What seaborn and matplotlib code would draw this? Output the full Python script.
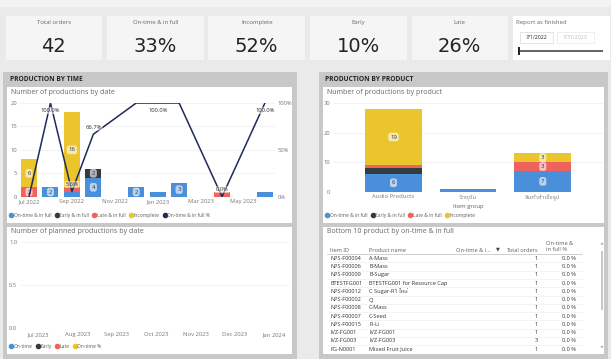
import numpy as np
import pandas as pd
import seaborn as sns
import matplotlib
matplotlib.use("Agg")
import matplotlib.pyplot as plt
from matplotlib.patches import Rectangle
from matplotlib.lines import Line2D
from matplotlib import font_manager as fm

# ---------------- data ----------------
kpi_titles = ["Total orders", "On-time & in full", "Incomplete", "Early", "Late"]
kpi_values = ["42", "33%", "52%", "10%", "26%"]
slicer_title = "Report as finished"
slicer_dates = ["7/1/2022", "7/31/2023"]

months = ["Jul 2022", "Aug 2022", "Sep 2022", "Oct 2022", "Nov 2022", "Dec 2022",
          "Jan 2023", "Feb 2023", "Mar 2023", "Apr 2023", "May 2023", "Jun 2023"]
month_ticks = ["Jul 2022", "Sep 2022", "Nov 2022", "Jan 2023", "Mar 2023", "May 2023"]
t_ontime = [0, 2, 1, 4, 0, 2, 1, 3, 0, 0, 0, 1]
t_early = [0, 0, 0, 2, 0, 0, 0, 0, 0, 0, 0, 0]
t_late = [2, 0, 1, 0, 0, 0, 0, 0, 0, 1, 0, 0]
t_incomplete = [6, 0, 16, 0, 0, 0, 0, 0, 0, 0, 0, 0]
t_pct = [0.0, 100.0, 5.6, 66.7, np.nan, 100.0, 100.0, 100.0, np.nan, 0.0, np.nan, 100.0]
t_pct_labelled = ["Aug 2022", "Sep 2022", "Oct 2022", "Jan 2023", "Apr 2023", "Jun 2023"]

plan_months = ["Jul 2023", "Aug 2023", "Sep 2023", "Oct 2023", "Nov 2023", "Dec 2023", "Jan 2024"]
plan_series = ["On-time", "Early", "Late", "On-time %"]

groups = ["Audio Products", "วัตถุดิบ", "สินค้าสำเร็จรูป"]
g_ontime = [6, 1, 7]
g_early = [2, 0, 0]
g_late = [1, 0, 3]
g_incomplete = [19, 0, 3]

series_names = ["On-time & in full", "Early & in full", "Late & in full", "Incomplete"]
line_name = "On-time & in full %"

tbl_headers = ["Item ID", "Product name", "On-time & i...", "Total orders", "On-time &\nin full %"]
tbl_item_id = ["NPS-F00004", "NPS-F00006", "NPS-F00009", "BTESTFG001", "NPS-F00012", "NPS-F00002",
               "NPS-F00008", "NPS-F00007", "NPS-F00015", "IVZ-FG001", "IVZ-FG003", "FG-N0001"]
tbl_product = ["A-Mass", "B-Mass", "B-Sugar", "BTESTFG001 for Resource Cap", "C Sugar-R1 ใหม่", "CJ",
               "C-Mass", "C-Seed", "Fi-Li", "IVZ-FG001", "IVZ-FG003", "Mixed Fruit Juice"]
tbl_total = [1, 1, 1, 1, 1, 1, 1, 1, 1, 1, 3, 1]
tbl_pct = [0.0] * 12

# ---------------- style ----------------
sns.set_theme(style="white")


def find_thai_family():
    try:
        from fontTools.ttLib import TTFont
    except Exception:
        return None
    seen, cands = set(), []
    for f in fm.fontManager.ttflist:
        if f.fname in seen:
            continue
        seen.add(f.fname)
        try:
            tt = TTFont(f.fname, fontNumber=0, lazy=True)
            cmap = tt.getBestCmap()
            if cmap and 0x0E2A in cmap and 0x0E34 in cmap:
                cands.append(f.name)
        except Exception:
            pass
    for c in cands:
        if "Sans" in c:
            return c
    return cands[0] if cands else None


thai = find_thai_family()
BODY = ["Open Sans"] + ([thai] if thai else []) + ["DejaVu Sans"]
plt.rcParams["font.family"] = BODY

C_ON, C_EARLY, C_LATE, C_INC = "#4A8FDA", "#343D3D", "#F0625E", "#EAC52B"
C_LINE = "#1E2A5C"
C_TXT, C_GRAY = "#252423", "#666666"
BG, PANEL = "#EAEAEA", "#C8C8C8"

W, H = 611, 359
fig = plt.figure(figsize=(W / 100, H / 100), dpi=100, facecolor=BG)


def fbox(x0, y0, x1, y1):
    return [x0 / W, 1 - y1 / H, (x1 - x0) / W, (y1 - y0) / H]


def frect(x0, y0, x1, y1, fc, ec="none", lw=0, z=-2):
    fig.patches.append(Rectangle((x0 / W, 1 - y1 / H), (x1 - x0) / W, (y1 - y0) / H,
                                 transform=fig.transFigure, fc=fc, ec=ec, lw=lw, zorder=z))


def ftext(x, y, s, **kw):
    kw.setdefault("va", "center")
    fig.text(x / W, 1 - y / H, s, **kw)


# top strip
frect(0, 0, W, 7, "#F3F3F3", z=-3)

# ---------------- KPI cards ----------------
for i, (t, v) in enumerate(zip(kpi_titles, kpi_values)):
    x0 = 5.5 + i * 101.5
    frect(x0, 16, x0 + 96.5, 60, "#F5F5F5")
    ftext(x0 + 48.25, 22.5, t, ha="center", fontsize=4.3, color=C_GRAY)
    ftext(x0 + 48.25, 46.5, v, ha="center", fontsize=14,
          family=["Liberation Sans Narrow", "DejaVu Sans"], color=C_TXT)

# slicer
frect(513, 16, 610, 60, "white")
ftext(516, 22.5, slicer_title, ha="left", fontsize=4.3, color=C_GRAY)
frect(520, 32, 553, 43, "white", ec="#DADADA", lw=0.5, z=-1)
frect(557, 32, 594, 43, "white", ec="#E8E8E8", lw=0.5, z=-1)
ftext(536.5, 37.5, slicer_dates[0], ha="center", fontsize=3.8, color=C_TXT)
ftext(575.5, 37.5, slicer_dates[1], ha="center", fontsize=3.8, color="#BBBBBB")
frect(519, 50.3, 603, 51.7, "#666666", z=-1)
frect(518.3, 47, 520.3, 55, "#252423", z=-1)

# ---------------- panels ----------------
frect(3, 72, 297, 359, PANEL)
frect(319, 72, 608, 359, PANEL)
frect(7, 87, 292, 223, "white", z=-1)
frect(7, 227, 292, 354, "white", z=-1)
frect(323, 87, 604, 223, "white", z=-1)
frect(323, 227, 604, 354, "white", z=-1)
ftext(10, 79.5, "PRODUCTION BY TIME", ha="left", fontsize=4.8, weight="bold",
      family=["Open Sans", "DejaVu Sans"], color=C_TXT)
ftext(325, 79.5, "PRODUCTION BY PRODUCT", ha="left", fontsize=4.8, weight="bold",
      family=["Open Sans", "DejaVu Sans"], color=C_TXT)

ftext(11, 92.5, "Number of productions by date", ha="left", fontsize=5, color=C_GRAY)
ftext(11, 231.5, "Number of planned productions by date", ha="left", fontsize=5, color=C_GRAY)
ftext(327, 92.5, "Number of productions by product", ha="left", fontsize=5, color=C_GRAY)
ftext(327, 231.5, "Bottom 10 product by on-time & in full", ha="left", fontsize=5, color=C_GRAY)

LBL_BOX = dict(boxstyle="round,pad=0.3,rounding_size=0.4", fc="white", ec="none", alpha=0.62)


def style_axes(ax):
    ax.set_facecolor("none")
    for s in ax.spines.values():
        s.set_visible(False)
    ax.tick_params(length=0, labelsize=4.2, colors="#777777", pad=2)
    ax.set_xlabel("")
    ax.set_ylabel("")


def legend_row(ax, labels, colors, x, y):
    handles = [Line2D([], [], marker="o", ls="", color=c, markersize=3.0) for c in colors]
    leg = ax.legend(handles, labels, loc="center left", bbox_to_anchor=(x / W, 1 - y / H),
                    bbox_transform=fig.transFigure, ncol=len(labels), frameon=False,
                    fontsize=3.6, handlelength=0.5, handletextpad=0.25, columnspacing=0.8,
                    borderpad=0, borderaxespad=0, labelcolor="#605E5C")
    return leg


def stacked(ax, cats, layers, colors, width, min_label):
    cum = np.cumsum(np.array(layers, dtype=float), axis=0)
    for i in range(len(layers) - 1, -1, -1):
        sns.barplot(x=cats, y=cum[i], order=cats, color=colors[i], saturation=1, width=width,
                    errorbar=None, ax=ax, linewidth=0)
    for i, vals in enumerate(layers):
        for j, v in enumerate(vals):
            if v >= min_label:
                ax.text(j, cum[i][j] - v / 2, str(v), ha="center", va="center", fontsize=4.3,
                        color="#333333", bbox=LBL_BOX, zorder=5)


# ---------------- production by time ----------------
ax = fig.add_axes(fbox(20, 103, 275, 196.7))
stacked(ax, months, [t_ontime, t_early, t_late, t_incomplete], [C_ON, C_EARLY, C_LATE, C_INC], 0.75, 2)
style_axes(ax)
ax.set_ylim(0, 20)
ax.set_yticks([0, 5, 10, 15, 20])
ax.set_xticks([months.index(m) for m in month_ticks], month_ticks)
ax.grid(axis="y", color="#EEEEEE", lw=0.5)
ax.set_axisbelow(True)
ax.set_xlim(-0.42, 11.47)

ax2 = ax.twinx()
dfl = pd.DataFrame({"x": np.arange(len(months)), "pct": t_pct}).dropna()
sns.lineplot(data=dfl, x="x", y="pct", color=C_LINE, lw=1.1, ax=ax2)
style_axes(ax2)
ax2.set_ylim(0, 100)
ax2.set_yticks([0, 50, 100], ["0%", "50%", "100%"])
ax2.set_xlim(-0.42, 11.47)
for m in t_pct_labelled:
    j = months.index(m)
    v = t_pct[j]
    off = -5.5 if v >= 99 else 5
    ax2.annotate(f"{v:.1f}%", (j, v), xytext=(0, off), textcoords="offset points",
                 ha="center", va="center", fontsize=4.2, color="#333333", zorder=6,
                 bbox=dict(boxstyle="round,pad=0.15", fc="white", ec="none", alpha=0.55))
legend_row(ax, series_names + [line_name], [C_ON, C_EARLY, C_LATE, C_INC, C_LINE], 10, 215.5)

# ---------------- planned productions ----------------
axp = fig.add_axes(fbox(20, 242, 290, 327.7))
style_axes(axp)
axp.set_ylim(0, 1)
axp.set_yticks([0, 0.5, 1.0], ["0.0", "0.5", "1.0"])
axp.set_xticks(range(len(plan_months)), plan_months)
axp.set_xlim(-0.46, 6.4)
axp.grid(axis="y", color="#EEEEEE", lw=0.5)
axp.tick_params(axis="x", pad=3)
legend_row(axp, plan_series, [C_ON, C_EARLY, C_LATE, C_INC], 10, 346.5)

# ---------------- production by product ----------------
axg = fig.add_axes(fbox(333, 103, 604, 191.7))
stacked(axg, groups, [g_ontime, g_early, g_late, g_incomplete], [C_ON, C_EARLY, C_LATE, C_INC], 0.76, 3)
style_axes(axg)
axg.set_ylim(0, 30)
axg.set_yticks([0, 10, 20, 30])
axg.grid(axis="y", color="#EEEEEE", lw=0.5)
axg.set_axisbelow(True)
axg.set_xlim(-0.81, 2.82)
axg.set_xlabel("Item group", fontsize=4.2, color="#605E5C", labelpad=2)
legend_row(axg, series_names, [C_ON, C_EARLY, C_LATE, C_INC], 326, 215.5)

# ---------------- table ----------------
axt = fig.add_axes(fbox(323, 227, 604, 354))
axt.set_xlim(323, 604)
axt.set_ylim(354, 227)
axt.axis("off")
hdr_kw = dict(fontsize=4.1, color="#605E5C", va="center")
axt.text(330, 250, tbl_headers[0], ha="left", **hdr_kw)
axt.text(369, 250, tbl_headers[1], ha="left", **hdr_kw)
axt.text(455.5, 250, tbl_headers[2], ha="left", **hdr_kw)
axt.text(498, 248.5, "▼", ha="center", fontsize=3.6, color="#444444", va="center",
         family=["DejaVu Sans"])
axt.text(538, 250, tbl_headers[3], ha="right", **hdr_kw)
axt.text(546, 246.5, tbl_headers[4], ha="left", linespacing=1.25, **hdr_kw)
axt.plot([327, 582], [253.8, 253.8], color="#C8C8C8", lw=0.6)
row0, dy = 258.3, 8.27
for i, (iid, pn, tot, pc) in enumerate(zip(tbl_item_id, tbl_product, tbl_total, tbl_pct)):
    y = row0 + i * dy
    kw = dict(fontsize=4.1, color="#333333", va="center")
    axt.text(330, y, iid, ha="left", **kw)
    axt.text(369, y, pn, ha="left", **kw)
    axt.text(538, y, str(tot), ha="right", **kw)
    axt.text(576, y, f"{pc:.1f} %", ha="right", **kw)
    if i < len(tbl_item_id) - 1:
        axt.plot([327, 582], [y + dy / 2, y + dy / 2], color="#EFEFEF", lw=0.5)
# scrollbar
axt.add_patch(Rectangle((600.7, 251), 2.6, 59, fc="#C8C8C8", ec="none"))
axt.plot([601, 602, 603], [244.5, 243, 244.5], color="#888888", lw=0.5)
axt.plot([601, 602, 603], [346, 347.5, 346], color="#888888", lw=0.5)

fig.savefig("out.png", dpi=100, facecolor=BG)
